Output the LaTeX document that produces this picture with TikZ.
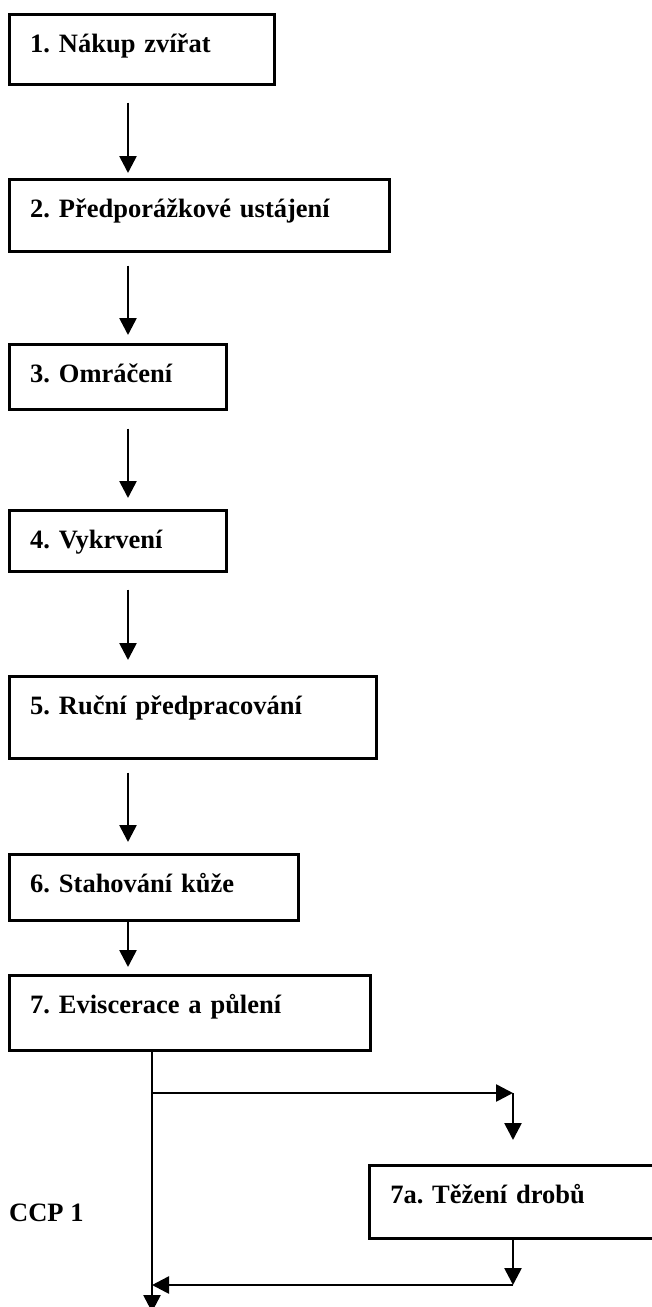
\documentclass[tikz,border=0pt]{standalone}
\usepackage{fontspec}
\setmainfont{Liberation Serif}
\frenchspacing
\usepackage{tikz}
\usetikzlibrary{arrows.meta,calc}

\begin{document}
\begin{tikzpicture}[
    x=1pt, y=-1pt,
    stepbox/.style={rectangle, draw, line width=2.5pt, anchor=north west,
                    inner xsep=21pt, inner ysep=0pt, text height=38pt,
                    align=left, font=\bfseries\fontsize{26.5}{30}\selectfont},
    flow/.style={-{Triangle[length=17pt,width=17pt]}, line width=2.6pt},
    lbl/.style={inner sep=0pt, font=\bfseries\fontsize{26.5}{30}\selectfont}
]
\useasboundingbox (0,0) rectangle (651,1307);
% steps
\node[stepbox, text width=223pt, text depth=32pt] (s1) at (8,13) {1. Nákup zvířat};
\node[stepbox, text width=338pt, text depth=34pt] (s2) at (8,178) {2. Předporážkové ustájení};
\node[stepbox, text width=175pt, text depth=27pt] (s3) at (8,343) {3. Omráčení};
\node[stepbox, text width=175pt, text depth=23pt] (s4) at (8,509) {4. Vykrvení};
\node[stepbox, text width=325pt, text depth=44pt] (s5) at (8,675) {5. Ruční předpracování};
\node[stepbox, text width=247pt, text depth=28pt] (s6) at (8,853) {6. Stahování kůže};
\node[stepbox, text width=319pt, text depth=37pt] (s7) at (8,974) {7. Eviscerace a půlení};
\node[stepbox, text width=245pt, text depth=35pt] (s7a) at (368,1164) {7a. Těžení drobů};
\node[lbl, anchor=base west] (ccp) at (9,1221) {CCP 1};
% helper points
\coordinate (ax) at (128,0);
\coordinate (spine) at (152,0);
\coordinate (split) at (152,1093);
\coordinate (turn) at (513,1093);
\coordinate (back) at (513,1285);
\coordinate (merge) at (152,1285);
\coordinate (out) at (152,1312);
% main line
\draw[flow, shorten <=17pt, shorten >=5pt] (ax |- s1.south) -- (ax |- s2.north);
\draw[flow, shorten <=13pt, shorten >=8pt] (ax |- s2.south) -- (ax |- s3.north);
\draw[flow, shorten <=18pt, shorten >=11pt] (ax |- s3.south) -- (ax |- s4.north);
\draw[flow, shorten <=17pt, shorten >=15pt] (ax |- s4.south) -- (ax |- s5.north);
\draw[flow, shorten <=13pt, shorten >=11pt] (ax |- s5.south) -- (ax |- s6.north);
\draw[flow, shorten >=7pt] (ax |- s6.south) -- (ax |- s7.north);
\draw[flow] (spine |- s7.south) -- (out);
% branch to 7a and back
\draw[flow] (split) -- (turn);
\draw[flow, shorten >=24pt] (turn) -- (turn |- s7a.north);
\draw[flow] (turn |- s7a.south) -- (back);
\draw[flow] (back) -- (merge);
\end{tikzpicture}
\end{document}
